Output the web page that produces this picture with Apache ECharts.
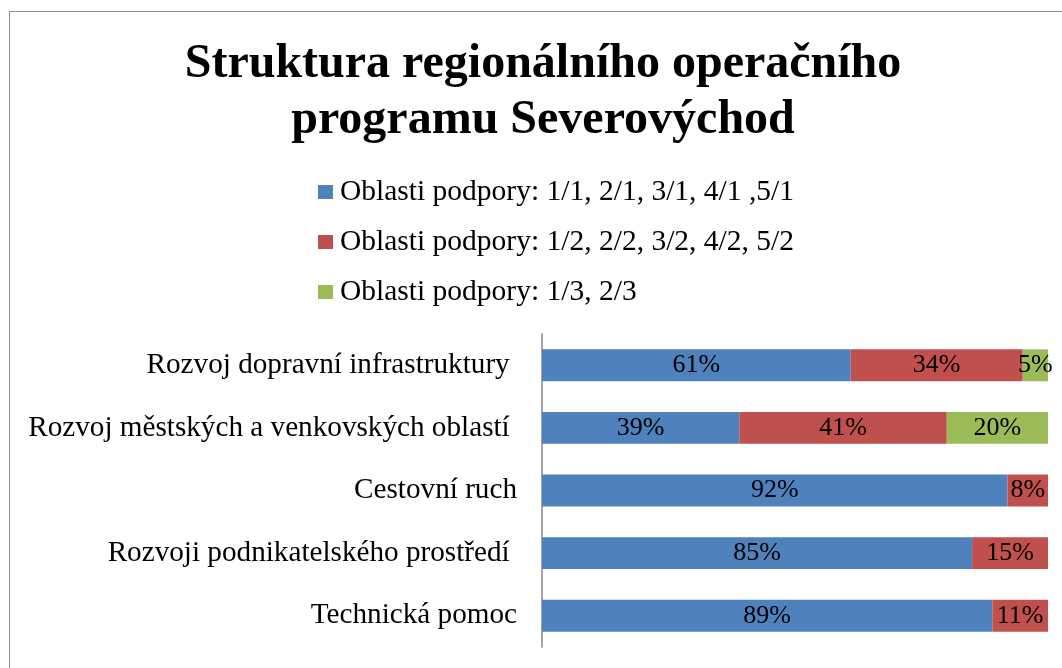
<!DOCTYPE html>
<html><head><meta charset="utf-8">
<script src="https://cdn.jsdelivr.net/npm/echarts@6/dist/echarts.min.js"></script>
<style>
html,body{margin:0;padding:0;background:#fff;overflow:hidden}
#frame{position:absolute;left:9px;top:11px;width:1080px;height:700px;border:1px solid #8c8c8c;box-sizing:border-box}
#c{position:absolute;left:0;top:0;width:1062px;height:668px}
</style></head>
<body>
<div id="frame"></div>
<div id="c"></div>
<script>
const categories = [
  "Rozvoj dopravní infrastruktury ",
  "Rozvoj městských a venkovských oblastí ",
  "Cestovní ruch",
  "Rozvoji podnikatelského prostředí ",
  "Technická pomoc"
];
const seriesNames = [
  "Oblasti podpory: 1/1, 2/1, 3/1, 4/1 ,5/1",
  "Oblasti podpory: 1/2, 2/2, 3/2, 4/2, 5/2",
  "Oblasti podpory: 1/3, 2/3"
];
const values1 = [61, 39, 92, 85, 89];
const values2 = [34, 41, 8, 15, 11];
const values3 = [5, 20, null, null, null];
const colors = ["#4F81BD", "#C0504D", "#9BBB59"];

const font = "'Liberation Serif', 'Times New Roman', serif";
const chart = echarts.init(document.getElementById('c'));
const mk = (name, data, color) => ({
  name, type: 'bar', stack: 'total', data, barWidth: '51%',
  itemStyle: { color },
  label: { show: true, position: 'inside', formatter: p => p.value == null ? '' : p.value + '%',
           color: '#000', fontFamily: font, fontSize: 26 }
});
chart.setOption({
  animation: false,
  title: {
    text: 'Struktura regionálního operačního\nprogramu Severovýchod',
    left: 538, top: 32, textAlign: 'center',
    textStyle: { fontFamily: font, fontSize: 48, fontWeight: 'bold', color: '#000', lineHeight: 56 }
  },
  legend: {
    orient: 'vertical', left: 313, top: 172, itemWidth: 15, itemHeight: 14, itemGap: 20,
    icon: 'rect', itemStyle: { borderWidth: 0 },
    textStyle: { fontFamily: font, fontSize: 29.5, color: '#000', lineHeight: 30, padding: [0, 0, 0, 2] },
    data: seriesNames
  },
  grid: { left: 542, right: 14, top: 334, height: 313, containLabel: false },
  xAxis: { type: 'value', min: 0, max: 100, show: false },
  yAxis: {
    type: 'category', data: categories, inverse: true,
    axisLine: { show: true, lineStyle: { color: '#868686', width: 1.5 } },
    axisTick: { show: false },
    axisLabel: { fontFamily: font, fontSize: 29.2, color: '#000', margin: 25 }
  },
  series: [mk(seriesNames[0], values1, colors[0]), mk(seriesNames[1], values2, colors[1]), mk(seriesNames[2], values3, colors[2])]
});
</script>
</body></html>
